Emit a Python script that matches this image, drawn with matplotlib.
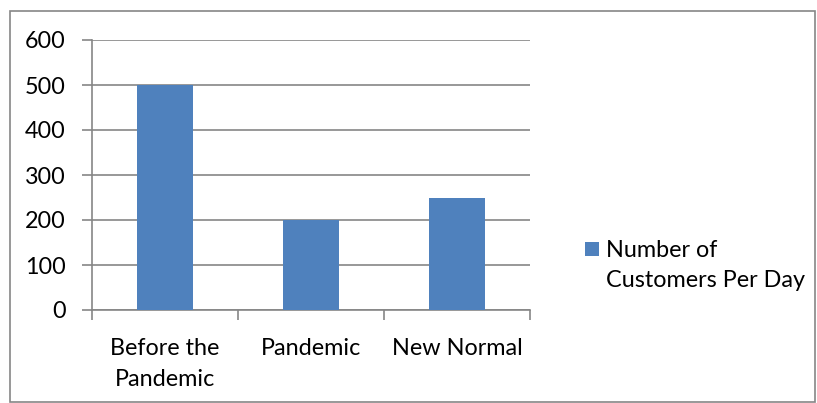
import numpy as np
import matplotlib.pyplot as plt
from matplotlib.patches import Rectangle
from matplotlib.legend_handler import HandlerPatch

categories = ['Before the\nPandemic', 'Pandemic', 'New Normal']
customers = [500, 200, 250]
series_name = 'Number of\nCustomers Per Day'

plt.rcParams['font.family'] = ['Lato', 'DejaVu Sans']

grey = '#868686'
blue = '#4F81BD'
fs = 16.8


# legend square sits next to the first line, like Excel does
def top_square(legend, orig_handle, xdescent, ydescent, width, height, fontsize):
    s = 10
    cy = height / 2 - ydescent + 11.9
    return Rectangle((-xdescent, cy - s / 2), s, s)


fig = plt.figure(figsize=(8.17, 4.03), dpi=100)
ax = fig.add_axes([92/817, 1 - 310/403, (530 - 92)/817, (310 - 40)/403])

x = np.arange(len(categories))
bars = ax.bar(x, customers, width=0.39, color=blue, label=series_name, zorder=3)

ax.set_xlim(-0.5, len(categories) - 0.5)
ax.set_ylim(0, 600)
ax.set_yticks(np.arange(0, 601, 100))
ax.yaxis.grid(True, color=grey, linewidth=1.2, zorder=0)
ax.set_axisbelow(True)

ax.set_xticks(x)
ax.set_xticklabels(categories, fontsize=fs, linespacing=1.62)
ax.set_xticks(np.arange(-0.5, len(categories), 1), minor=True)
ax.tick_params(axis='x', which='major', length=0, pad=20)
ax.tick_params(axis='x', which='minor', length=7, color=grey, width=1.2)
ax.tick_params(axis='y', length=7, color=grey, width=1.2, labelsize=fs, pad=12)

for s in ['top', 'right']:
    ax.spines[s].set_visible(False)
for s in ['left', 'bottom']:
    ax.spines[s].set_color(grey)
    ax.spines[s].set_linewidth(1.2)

leg = fig.legend(handles=[bars[0]], labels=[series_name], loc='upper left',
                 bbox_to_anchor=(564/817, 1 - 219/403), frameon=False,
                 fontsize=fs, handlelength=0.6, handleheight=0.6,
                 handletextpad=0.3, labelspacing=0.2,
                 handler_map={bars[0]: HandlerPatch(patch_func=top_square)})
for t in leg.get_texts():
    t.set_linespacing(1.55)

fig.patches.append(Rectangle((10/817, 0.002), 1 - 10/817 - 0.002, 1 - 11/403 - 0.002,
                             transform=fig.transFigure, fill=False,
                             edgecolor=grey, linewidth=1.2))

fig.savefig('out.png', dpi=100)
